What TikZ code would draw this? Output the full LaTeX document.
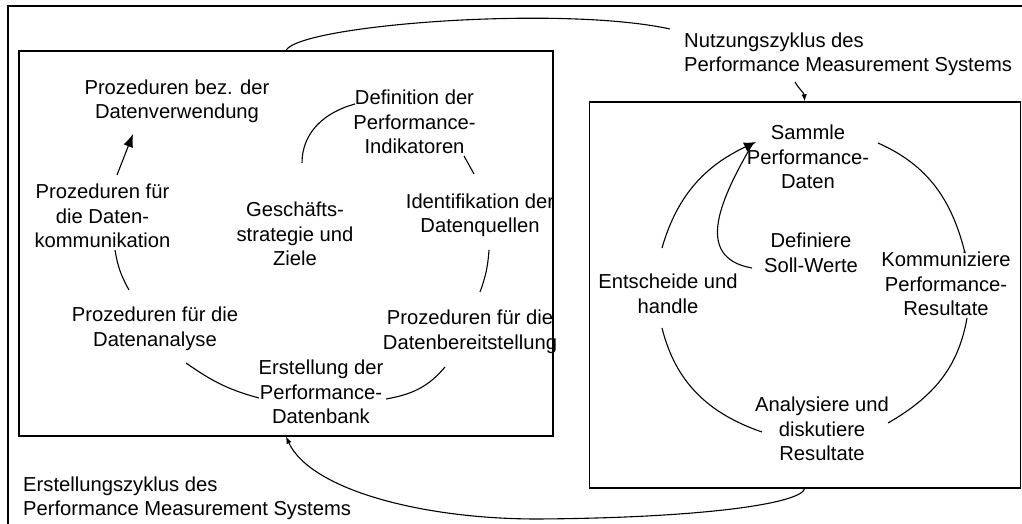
\documentclass[tikz,border=0pt]{standalone}
\usepackage{fontspec}
\setmainfont{Liberation Sans}
\usetikzlibrary{arrows.meta}
\begin{document}
\begin{tikzpicture}[x=1pt,y=1pt,
  lbl/.style={inner sep=0pt, align=center, font=\fontsize{20.2}{24.5}\selectfont},
  captiontext/.style={lbl, align=left, anchor=west},
  panel/.style={draw, line width=1.3pt, inner sep=0pt},
  link/.style={line width=1.1pt},
  bigtip/.style={-{Latex[length=13pt,width=10pt]}},
  midtip/.style={-{Latex[length=12pt,width=10pt]}},
  smalltip/.style={-{Latex[length=7pt,width=5.5pt]}}
]
\useasboundingbox (0,0) rectangle (1022,524);

% outer frame (open to the right and bottom)
\draw[line width=1.3pt] (8,0) -- (8,518) -- (1022,518);

% the two cycle panels
\node[panel, minimum width=534pt, minimum height=385pt] (lbox) at (286,280.5) {};
\node[panel, minimum width=431pt, minimum height=386pt] (rbox) at (804.75,229) {};

% creation cycle
\node[lbl] (pbez)    at (177,422.5) {Prozeduren bez. der\\Datenverwendung};
\node[lbl] (defin)   at (414.5,402) {Definition der\\Performance-\\Indikatoren};
\node[lbl] (pkomm)   at (102.5,308) {Prozeduren für\\die Daten-\\kommunikation};
\node[lbl] (gesch)   at (295,290)   {Geschäfts-\\strategie und\\Ziele};
\node[lbl] (ident)   at (480,308.5) {Identifikation der\\Datenquellen};
\node[lbl] (panal)   at (155,195)   {Prozeduren für die\\Datenanalyse};
\node[lbl] (pbereit) at (470,192)   {Prozeduren für die\\Datenbereitstellung};
\node[lbl] (erst)    at (321,132)   {Erstellung der\\Performance-\\Datenbank};

% usage cycle
\node[lbl] (sammle)  at (808,367) {Sammle\\Performance-\\Daten};
\node[lbl] (defsoll) at (811,271) {Definiere\\Soll-Werte};
\node[lbl] (entsch)  at (668,230) {Entscheide und\\handle};
\node[lbl] (kommres) at (946,240) {Kommuniziere\\Performance-\\Resultate};
\node[lbl] (analys)  at (822,95)  {Analysiere und\\diskutiere\\Resultate};

% captions
\node[captiontext] (nutz)  at (684,469.5) {Nutzungszyklus des\\Performance Measurement Systems};
\node[captiontext] (erstz) at (23,25.5)   {Erstellungszyklus des\\Performance Measurement Systems};

% creation cycle connectors
\draw[link, bigtip] ([shift={(14.5,41)}]pkomm.center) -- ([shift={(-44,-32.5)}]pbez.center);
\draw[link] ([shift={(7,71)}]gesch.center) to[out=90,in=195] ([shift={(-59.5,18)}]defin.center);
\draw[link] ([shift={(49.5,-34)}]defin.center) -- ([shift={(-6,41.5)}]ident.center);
\draw[link] ([shift={(9,-34.5)}]ident.center) to[bend left=8] ([shift={(10,40)}]pbereit.center);
\draw[link] ([shift={(12.5,-34)}]pkomm.center) to[bend right=10] ([shift={(-26,39)}]panal.center);
\draw[link] ([shift={(31,-34)}]panal.center) to[out=-35,in=165] ([shift={(-62,-6)}]erst.center);
\draw[link] ([shift={(65,-7)}]erst.center) to[out=10,in=230] ([shift={(-25,-35)}]pbereit.center);

% usage cycle connectors
\draw[link, midtip] ([shift={(-6,46)}]entsch.center) to[out=74,in=205] ([shift={(-52,15)}]sammle.center);
\draw[link] ([shift={(-59,-15)}]defsoll.center) to[out=170,in=240,looseness=1.25] ([shift={(-55,14)}]sammle.center);
\draw[link] ([shift={(70,14)}]sammle.center) to[out=-24,in=104] ([shift={(19,31)}]kommres.center);
\draw[link] ([shift={(21,-34)}]kommres.center) to[out=-100,in=30] ([shift={(66,6)}]analys.center);
\draw[link] ([shift={(-60,-3)}]analys.center) to[out=161,in=-76] ([shift={(-6,-34)}]entsch.center);

% links between the two cycles
\draw[link] (lbox.north) .. controls (300,499) and (560,519) .. ([shift={(-14,25.5)}]nutz.west);
\draw[link, smalltip] ([shift={(111,-27.5)}]nutz.west) to[out=-60,in=95] (rbox.north);
\draw[link, smalltip] (rbox.south) .. controls (800,20) and (700,6) .. (537,5)
      .. controls (420,5) and (310,35) .. (lbox.south);
\end{tikzpicture}
\end{document}
